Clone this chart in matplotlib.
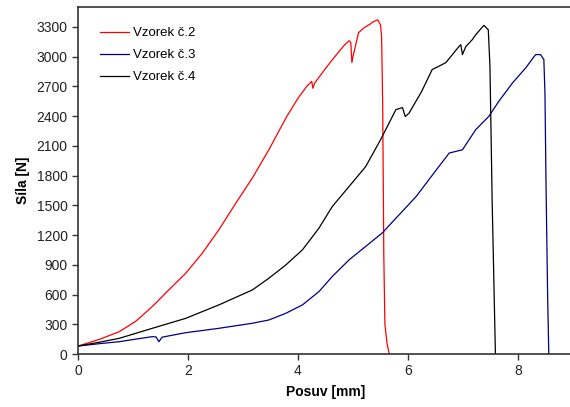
import matplotlib
matplotlib.use("Agg")
import matplotlib.pyplot as plt

plt.rcParams['font.family'] = ['Liberation Sans', 'DejaVu Sans']

# Vzorek č.2 (red)
x2 = [0.0, 0.4, 0.75, 1.05, 1.35, 1.65, 1.96, 2.26, 2.56, 2.87, 3.17, 3.47, 3.8,
      4.0, 4.16, 4.25, 4.27, 4.3, 4.5, 4.7, 4.85, 4.93, 4.96, 4.98, 5.0, 5.1,
      5.2, 5.29, 5.38, 5.45, 5.5, 5.52, 5.54, 5.56, 5.58, 5.62, 5.66]
y2 = [80, 150, 225, 330, 478, 646, 815, 1017, 1252, 1522, 1775, 2060, 2400,
      2580, 2700, 2750, 2680, 2730, 2880, 3020, 3120, 3160, 3140, 2940, 3000, 3240,
      3290, 3320, 3355, 3370, 3320, 3200, 2500, 1000, 300, 100, 0]

# Vzorek č.3 (blue)
x3 = [0.0, 0.4, 0.75, 1.05, 1.35, 1.42, 1.47, 1.53, 1.96, 2.56, 3.17, 3.47, 3.78,
      4.08, 4.38, 4.62, 4.93, 5.53, 6.15, 6.56, 6.75, 6.99, 7.23, 7.47, 7.65,
      7.9, 8.14, 8.32, 8.41, 8.47, 8.49, 8.51, 8.54, 8.56]
y3 = [80, 105, 124, 150, 175, 172, 124, 170, 215, 259, 310, 343, 411,
      495, 629, 780, 950, 1220, 1590, 1890, 2027, 2060, 2262, 2397, 2548,
      2734, 2886, 3020, 3020, 2970, 2633, 1690, 545, 0]

# Vzorek č.4 (black)
x4 = [0.0, 0.4, 0.75, 1.35, 1.96, 2.56, 3.17, 3.47, 3.78, 4.08, 4.38, 4.62, 5.23,
      5.5, 5.78, 5.9, 5.95, 6.02, 6.25, 6.44, 6.56, 6.69, 6.93, 6.96, 6.99, 7.05,
      7.17, 7.23, 7.38, 7.46, 7.49, 7.53, 7.58, 7.59]
y4 = [80, 120, 158, 259, 360, 495, 646, 764, 899, 1050, 1269, 1485, 1890,
      2160, 2465, 2485, 2395, 2430, 2650, 2870, 2902, 2940, 3104, 3120, 3020, 3100,
      3171, 3220, 3315, 3270, 2900, 1550, 240, 0]

fig = plt.figure(figsize=(5.7, 4.07), dpi=100)
ax = fig.add_axes([78 / 570, 53 / 407, 495 / 570, 347 / 407])

ax.plot(x2, y2, color='#ff0000', lw=0.9, label='Vzorek č.2')
ax.plot(x3, y3, color='#000080', lw=0.9, label='Vzorek č.3')
ax.plot(x4, y4, color='#000000', lw=0.9, label='Vzorek č.4')

ax.set_xlim(0, 9)
ax.set_ylim(0, 3500)
ax.set_xticks([0, 2, 4, 6, 8])
ax.set_yticks(range(0, 3301, 300))
ax.spines['right'].set_visible(False)
for s in ['left', 'bottom', 'top']:
    ax.spines[s].set_linewidth(1.2)
    ax.spines[s].set_color('#333333')
ax.tick_params(labelsize=10, length=4, width=1, colors='#333333', labelcolor='#222222')

ax.set_xlabel('Posuv [mm]', fontsize=10, fontweight='bold', labelpad=5)
ax.set_ylabel('Síla [N]', fontsize=10, fontweight='bold', labelpad=5)

ax.legend(loc='upper left', bbox_to_anchor=(22 / 495, 1 - 20 / 347), frameon=False,
          fontsize=9.5, handlelength=2.2, handletextpad=0.3, labelspacing=0.75,
          borderpad=0, borderaxespad=0)

fig.savefig('out.png', dpi=100)
